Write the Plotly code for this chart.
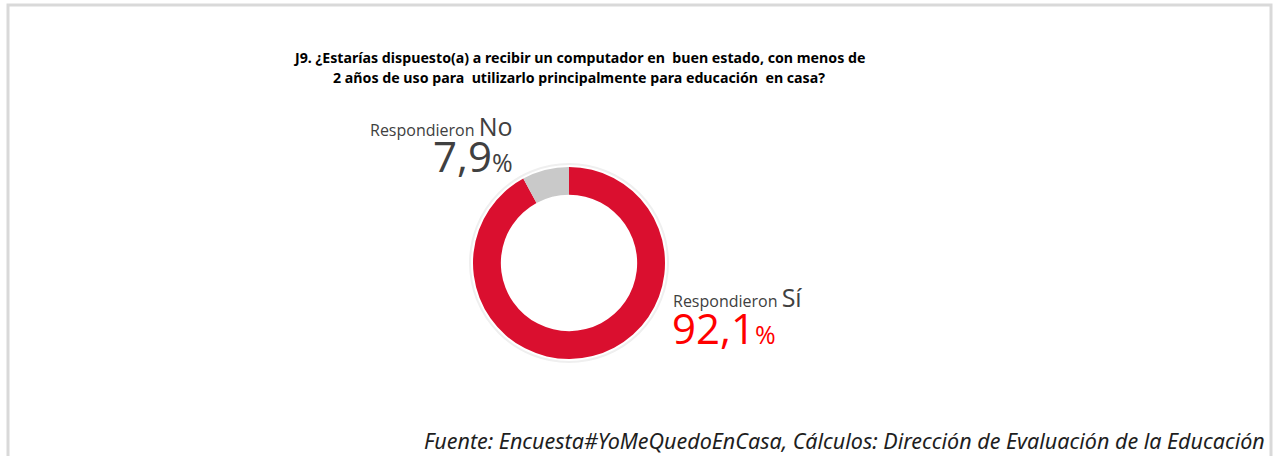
import plotly.graph_objects as go

# survey answers (percent)
labels = ["Sí", "No"]
values = [92.1, 7.9]
colors = ["#DA0F2F", "#C9C9C9"]

title_lines = [
    "J9. ¿Estarías dispuesto(a) a recibir un computador en  buen estado, con menos de",
    "2 años de uso para  utilizarlo principalmente para educación  en casa?",
]
source = "Fuente: Encuesta#YoMeQuedoEnCasa, Cálculos: Dirección de Evaluación de la Educación"

W, H = 1273, 456

fig = go.Figure()
fig.add_trace(go.Pie(
    labels=labels, values=values, hole=0.71, sort=False,
    direction="clockwise", rotation=0,
    marker=dict(colors=colors, line=dict(width=0)),
    textinfo="none", hoverinfo="label+percent", showlegend=False,
    domain=dict(x=[473 / W, 665 / W], y=[97 / H, 289 / H]),
))

shapes = [
    # frame
    dict(type="rect", xref="paper", yref="paper", x0=8 / W, x1=1271 / W, y0=-0.05, y1=1 - 5 / H,
         line=dict(color="#D9D9D9", width=3), layer="below"),
    # faint halo round the donut
    dict(type="circle", xref="paper", yref="paper",
         x0=(569 - 99) / W, x1=(569 + 99) / W, y0=(193 - 99) / H, y1=(193 + 99) / H,
         line=dict(color="#EFEFEF", width=2), layer="below"),
]

font = "Open Sans"
ann = [
    dict(x=579 / W, y=1 - 57 / H, text="<b>" + title_lines[0] + "</b>",
         font=dict(family="Noto Sans", size=14.2, color="#000000")),
    dict(x=579 / W, y=1 - 78 / H, text="<b>" + title_lines[1] + "</b>",
         font=dict(family="Noto Sans", size=14.2, color="#000000")),
    dict(x=515 / W, y=1 - 126 / H, xanchor="right",
         text="<span style='font-size:16px'>Respondieron </span>No",
         font=dict(family=font, size=25, color="#404040")),
    dict(x=515 / W, y=1 - 156 / H, xanchor="right",
         text="7,9<span style='font-size:25px'>%</span>",
         font=dict(family=font, size=42, color="#404040")),
    dict(x=671 / W, y=1 - 297 / H, xanchor="left",
         text="<span style='font-size:16px;color:#404040'>Respondieron </span>Sí",
         font=dict(family=font, size=25, color="#404040")),
    dict(x=670 / W, y=1 - 327 / H, xanchor="left",
         text="92,1<span style='font-size:25px'>%</span>",
         font=dict(family=font, size=42, color="#FF0000")),
    dict(x=1267 / W, y=1 - 440 / H, xanchor="right",
         text="<i>" + source + "</i>",
         font=dict(family="Noto Sans", size=21.5, color="#1E1E1E")),
]
for a in ann:
    a.update(xref="paper", yref="paper", showarrow=False, yanchor="middle")
    a.setdefault("xanchor", "center")

fig.update_layout(
    width=W, height=H, margin=dict(l=0, r=0, t=0, b=0),
    paper_bgcolor="white", plot_bgcolor="white",
    shapes=shapes, annotations=ann,
)

# drop the page's default body margin so the figure sits at the window's corner
fig.write_html("out.html", config={"displayModeBar": False},
               post_script="document.body.style.margin='0px';")
